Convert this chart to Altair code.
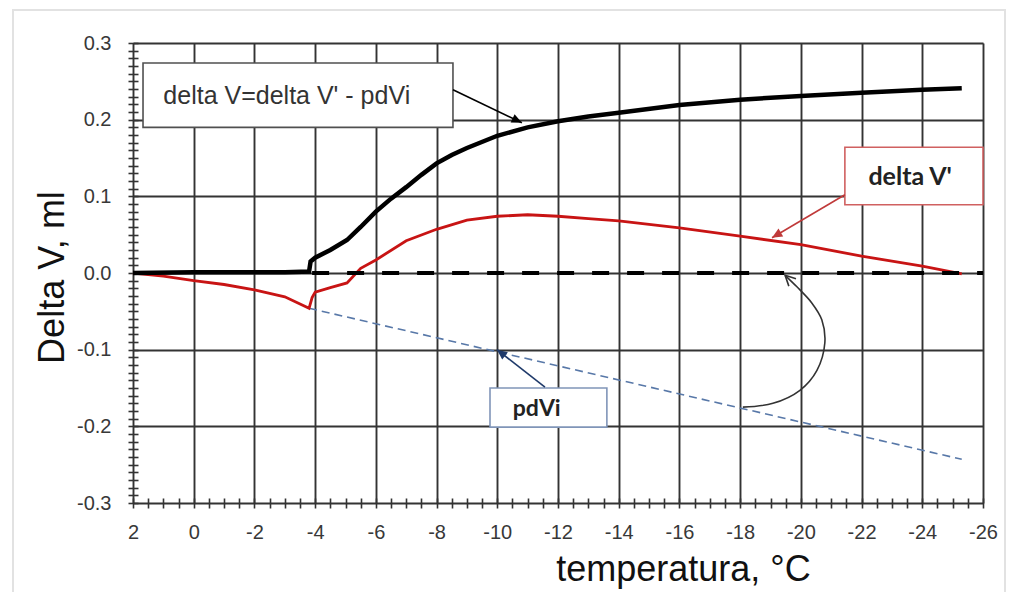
import math
import altair as alt
import pandas as pd

# ---------------- data ----------------
# delta V = delta V' - pdVi  (black, thick)
dv_temp = [2, 0, -2, -3, -3.8, -3.85, -4, -4.5, -5.05, -5.5, -6, -6.5, -7, -7.5, -8, -8.5,
           -9, -10, -11, -12, -13, -14, -16, -18, -20, -22, -24, -25.3]
dv_val = [0.0, 0.001, 0.001, 0.001, 0.002, 0.015, 0.020, 0.030, 0.043, 0.060, 0.080, 0.097,
          0.112, 0.128, 0.143, 0.154, 0.163, 0.179, 0.190, 0.198, 0.204, 0.209, 0.219, 0.226,
          0.231, 0.235, 0.239, 0.241]

# delta V' (red)
dvp_temp = [2, 1, 0, -1, -2, -3, -3.8, -3.9, -4, -4.5, -5.05, -5.5, -6, -7, -8, -9, -10,
            -11, -12, -13, -14, -16, -18, -20, -22, -24, -25.3]
dvp_val = [0.0, -0.004, -0.010, -0.015, -0.022, -0.031, -0.046, -0.032, -0.025, -0.019,
           -0.013, 0.006, 0.017, 0.042, 0.057, 0.069, 0.074, 0.076, 0.074, 0.071, 0.068,
           0.059, 0.048, 0.037, 0.022, 0.009, -0.001]

# pdVi (blue dashed)
pdvi_temp = [-3.8, -25.3]
pdvi_val = [-0.046, -0.243]

# zero reference (black dashed)
zero_temp = [-3.9, -26.0]
zero_val = [0.0, 0.0]

# tick values
x_ticks = [2 - 0.5 * i for i in range(57)]
y_ticks = [round(-0.3 + 0.01 * i, 2) for i in range(61)]

# annotation boxes: x1, x2, y1, y2
box_x1 = [1.67, -21.45, -9.76]
box_x2 = [-8.54, -26.0, -13.61]
box_y1 = [0.274, 0.164, -0.150]
box_y2 = [0.190, 0.089, -0.201]
box_stroke = ["#505050", "#d06060", "#8095b8"]

# arrows: start -> end
arr_x1 = [-8.54, -21.45, -11.57]
arr_y1 = [0.239, 0.102, -0.149]
arr_x2 = [-10.81, -19.05, -9.99]
arr_y2 = [0.196, 0.046, -0.100]
arr_col = ["#000000", "#c03a3a", "#1f3a6a"]

# curved arrow
curve_temp = [-18.09, -19.08, -19.97, -20.53, -20.79, -20.69, -20.36, -19.87, -19.48]
curve_val = [-0.175, -0.170, -0.153, -0.127, -0.091, -0.061, -0.039, -0.018, -0.003]

# ---------------- layout ----------------
W, H = 850, 460
KX = W / 28.0   # px per degree
KY = H / 0.6    # px per ml

xs = alt.Scale(domain=[-26, 2], reverse=True, nice=False, zero=False)
ys = alt.Scale(domain=[-0.3, 0.3], nice=False, zero=False)

GRID = "#333333"
x_axis = alt.Axis(
    values=x_ticks, title="temperatura, °C",
    labelExpr="datum.value % 2 === 0 ? '' + datum.value : ''",
    grid=True, gridColor=GRID, gridWidth=1.9,
    gridOpacity={"condition": {"test": "datum.value % 2 === 0", "value": 1}, "value": 0},
    tickColor=GRID, tickWidth=1.6, tickSize=10, offset=-5, domain=False,
    labelPadding=14, labelFont="Liberation Sans", labelFontSize=20, labelColor="#383838",
    labelFlush=False, labelOverlap=False,
    titleFont="Liberation Sans", titleFontSize=36, titleFontWeight="normal", titleColor="#111111",
    titleX=550, titleY=82, titleBaseline="alphabetic", titleAlign="center",
)
y_axis = alt.Axis(
    values=y_ticks, title="Delta V, ml",
    labelExpr="abs(datum.value*10 - round(datum.value*10)) < 0.001 ? replace(format(datum.value, '.1f'), '\u2212', '-') : ''",
    grid=True, gridColor=GRID, gridWidth=1.9,
    gridOpacity={"condition": {"test": "abs(datum.value*10 - round(datum.value*10)) < 0.001", "value": 1}, "value": 0},
    tickColor=GRID, tickWidth=1.6, tickSize=10, offset=-5, domain=False,
    labelPadding=17, labelFont="Liberation Sans", labelFontSize=20, labelColor="#383838",
    labelFlush=False, labelOverlap=False,
    titleFont="Liberation Sans", titleFontSize=36, titleFontWeight="normal", titleColor="#111111",
    titleAngle=-90, titleX=-75, titleY=234, titleBaseline="alphabetic", titleAlign="center",
)


def X(field):
    return alt.X(field, type="quantitative", scale=xs, axis=x_axis)


def Y(field):
    return alt.Y(field, type="quantitative", scale=ys, axis=y_axis)


def line(t, v, **kw):
    df = pd.DataFrame({"t": t, "v": v, "i": list(range(len(t)))})
    return alt.Chart(df).mark_line(**kw).encode(x=X("t"), y=Y("v"), order=alt.Order("i:Q"))


pdvi = line(pdvi_temp, pdvi_val, color="#5878a8", strokeWidth=1.6, strokeDash=[8, 5])
red = line(dvp_temp, dvp_val, color="#c81414", strokeWidth=2.8)
zero = line(zero_temp, zero_val, color="#000000", strokeWidth=4, strokeDash=[17, 18])
black = line(dv_temp, dv_val, color="#000000", strokeWidth=4.5)

# boxes
boxes_df = pd.DataFrame({"x1": box_x1, "x2": box_x2, "y1": box_y1, "y2": box_y2, "c": box_stroke})
boxes = alt.Chart(boxes_df).mark_rect(fill="white", strokeWidth=1.6).encode(
    x=X("x1"), x2="x2", y=Y("y1"), y2="y2", stroke=alt.Stroke("c:N", scale=None)
)

# texts
t1 = alt.Chart(pd.DataFrame({"x": [1.0], "y": [0.231], "s": ["delta V=delta V' - pdVi"]})).mark_text(
    align="left", baseline="middle", font="Liberation Sans", fontSize=25, color="#333333"
).encode(x=X("x"), y=Y("y"), text="s:N")
t2 = alt.Chart(pd.DataFrame({"x": [-23.6], "y": [0.125], "s": ["delta V'"]})).mark_text(
    align="center", baseline="middle", font="Lato", fontSize=25, fontWeight="bold", color="#222222"
).encode(x=X("x"), y=Y("y"), text="s:N")
t3 = alt.Chart(pd.DataFrame({"x": [-11.3], "y": [-0.178], "s": ["pdVi"]})).mark_text(
    align="center", baseline="middle", font="Lato", fontSize=23, fontWeight="bold", color="#222222"
).encode(x=X("x"), y=Y("y"), text="s:N")


def ang(x1, y1, x2, y2):
    dx = -(x2 - x1) * KX
    dy = -(y2 - y1) * KY
    return math.degrees(math.atan2(dx, -dy)) % 360


arr_df = pd.DataFrame({"x1": arr_x1, "y1": arr_y1, "x2": arr_x2, "y2": arr_y2, "c": arr_col})
arr_df["a"] = [ang(a, b, c, d) for a, b, c, d in zip(arr_x1, arr_y1, arr_x2, arr_y2)]
arr_lines = alt.Chart(arr_df).mark_rule(strokeWidth=1.6).encode(
    x=X("x1"), y=Y("y1"), x2="x2", y2="y2", color=alt.Color("c:N", scale=None)
)
arr_heads = alt.Chart(arr_df).mark_point(
    shape="M-0.45,1L0,0L0.45,1Z", filled=True, size=420, opacity=1
).encode(x=X("x2"), y=Y("y2"), angle=alt.Angle("a:Q", scale=None), color=alt.Color("c:N", scale=None))

curve_df = pd.DataFrame({"t": curve_temp, "v": curve_val, "i": list(range(len(curve_temp)))})
curve = alt.Chart(curve_df).mark_line(color="#333333", strokeWidth=1.6, interpolate="catmull-rom").encode(
    x=X("t"), y=Y("v"), order=alt.Order("i:Q")
)
c_ang = ang(curve_temp[-2], curve_val[-2], curve_temp[-1], curve_val[-1])
curve_head = alt.Chart(pd.DataFrame({"t": [curve_temp[-1]], "v": [curve_val[-1]], "a": [c_ang]})).mark_point(
    shape="M-0.5,1L0,0L0.5,1", filled=False, size=420, strokeWidth=1.6, color="#333333", opacity=1
).encode(x=X("t"), y=Y("v"), angle=alt.Angle("a:Q", scale=None))

# faint outer frame
frame = alt.Chart(pd.DataFrame({"d": [0]})).mark_rect(
    fill=None, stroke="#e2e2e2", strokeWidth=2, clip=False
).encode(x=alt.value(-120), x2=alt.value(872), y=alt.value(-33), y2=alt.value(620))

chart = alt.layer(
    frame, pdvi, red, zero, black, boxes, t1, t2, t3, arr_lines, arr_heads, curve, curve_head
).properties(
    width=W, height=H,
    autosize=alt.AutoSizeParams(type="none"),
    padding={"left": 125, "top": 35, "right": 30, "bottom": 100},
).configure_view(stroke=GRID, strokeWidth=2).configure(background="white")

chart.save("out.html", embed_options={"renderer": "svg", "actions": False})
